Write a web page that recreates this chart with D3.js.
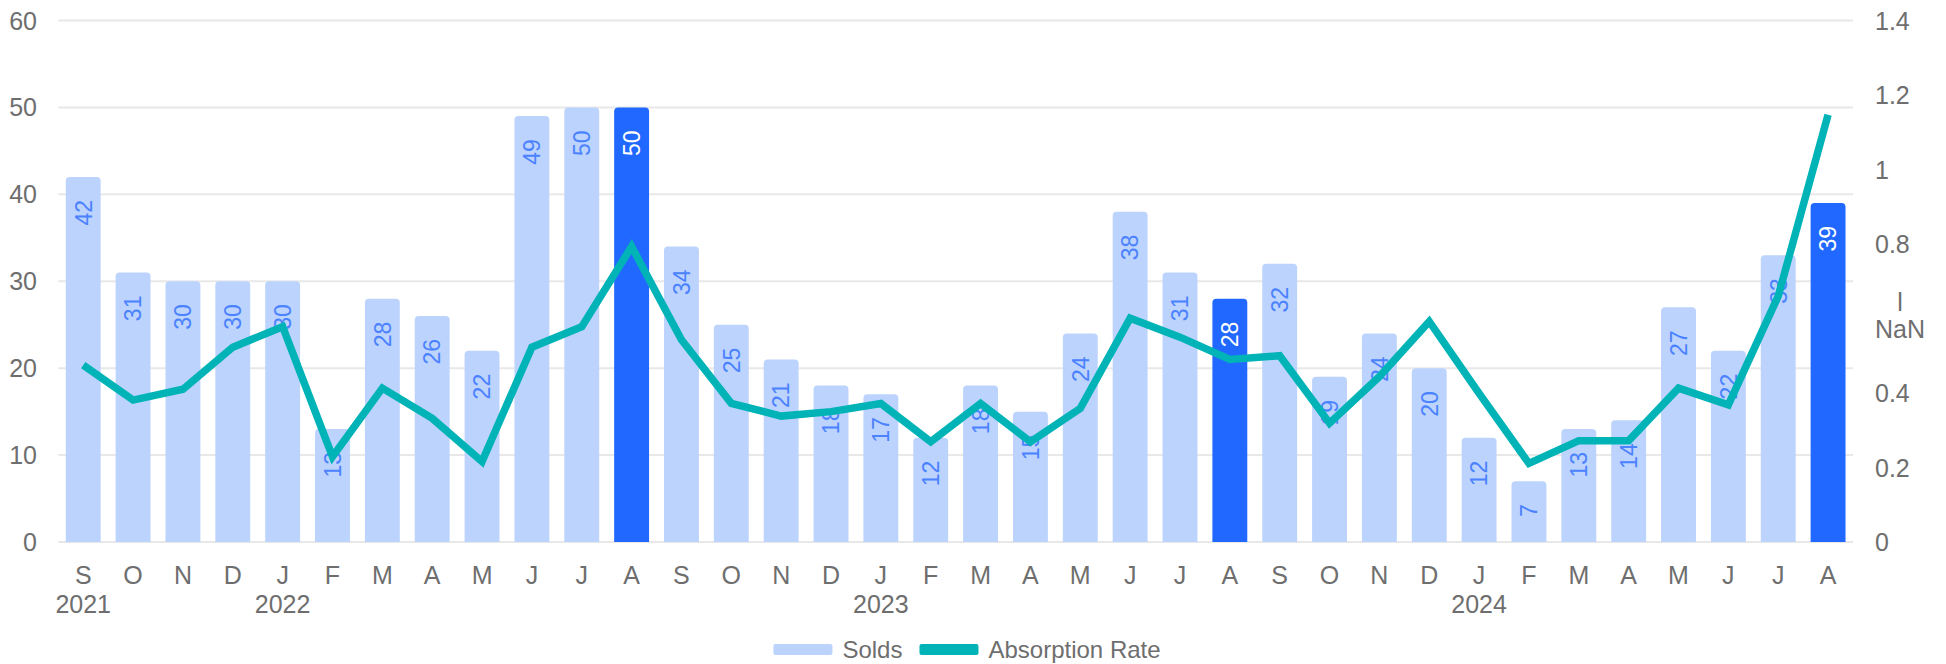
<!DOCTYPE html>
<html>
<head>
<meta charset="utf-8">
<script src="https://cdn.jsdelivr.net/npm/d3@7"></script>
<style>
  body { margin: 0; background: #fff; }
  svg { display: block; font-family: "Liberation Sans", Arial, sans-serif; }
</style>
</head>
<body>
<div id="chart"></div>
<script>
// Months from Sep 2021 to Aug 2024
const months = ["S","O","N","D","J","F","M","A","M","J","J","A",
                "S","O","N","D","J","F","M","A","M","J","J","A",
                "S","O","N","D","J","F","M","A","M","J","J","A"];
const yearStarts = [0, 4, 16, 28];
const yearLabels = ["2021", "2022", "2023", "2024"];

// Units sold per month
const solds = [42,31,30,30,30,13,28,26,22,49,50,50,
               34,25,21,18,17,12,18,15,24,38,31,28,
               32,19,24,20,12,7,13,14,27,22,33,39];

// Absorption rate per month (right axis)
const absorption = [0.475,0.381,0.41,0.523,0.578,0.229,0.413,0.332,0.216,0.523,0.578,0.793,
                    0.543,0.372,0.338,0.35,0.372,0.269,0.372,0.269,0.359,0.601,0.55,0.49,
                    0.5,0.319,0.444,0.592,0.399,0.211,0.272,0.272,0.413,0.368,0.66,1.147];

// Highlighted (August) bars
const highlighted = [11, 23, 35];

const leftTicks = [0, 10, 20, 30, 40, 50, 60];
const rightTicks = [0, 0.2, 0.4, 0.6, 0.8, 1, 1.2, 1.4];
const rightTickLabels = ["0", "0.2", "0.4", "l\nNaN", "0.8", "1", "1.2", "1.4"];

const width = 1946, height = 664;
const plot = { left: 58.3, right: 1853, top: 20.5, bottom: 542 };

const svg = d3.select("#chart").append("svg")
    .attr("width", width)
    .attr("height", height);

const x = d3.scaleBand()
    .domain(d3.range(months.length))
    .range([plot.left, plot.right])
    .paddingInner(0.3)
    .paddingOuter(0.15);

const y = d3.scaleLinear().domain([0, 60]).range([plot.bottom, plot.top]);
const yRight = d3.scaleLinear().domain([0, 1.4]).range([plot.bottom, plot.top]);

const axisColor = "#6e6e6e";
const fontSize = "25px";

// grid lines
svg.append("g").selectAll("line")
    .data(leftTicks)
    .enter().append("line")
    .attr("x1", plot.left)
    .attr("x2", plot.right)
    .attr("y1", d => y(d))
    .attr("y2", d => y(d))
    .attr("stroke", "#e8e8e8")
    .attr("stroke-width", 2);

// left axis labels
svg.append("g").selectAll("text")
    .data(leftTicks)
    .enter().append("text")
    .attr("x", 37)
    .attr("y", d => y(d))
    .attr("dy", "0.36em")
    .attr("text-anchor", "end")
    .attr("fill", axisColor)
    .style("font-size", fontSize)
    .text(d => d);

// right axis labels
const rightG = svg.append("g");
rightTicks.forEach((t, i) => {
    const lines = rightTickLabels[i].split("\n");
    if (lines.length === 1) {
        rightG.append("text")
            .attr("x", 1875)
            .attr("y", yRight(t))
            .attr("dy", "0.36em")
            .attr("fill", axisColor)
            .style("font-size", fontSize)
            .text(lines[0]);
    } else {
        // broken label rendered on two lines
        const last = rightG.append("text")
            .attr("x", 1875)
            .attr("y", yRight(t) + 10)
            .attr("dy", "0.36em")
            .attr("fill", axisColor)
            .style("font-size", fontSize)
            .text(lines[1]);
        const w = last.node().getComputedTextLength();
        rightG.append("text")
            .attr("x", 1875 + w / 2)
            .attr("y", yRight(t) - 17)
            .attr("dy", "0.36em")
            .attr("text-anchor", "middle")
            .attr("fill", axisColor)
            .style("font-size", fontSize)
            .text(lines[0]);
    }
});

// bars with rounded top corners
function barPath(x0, y0, w, h, r) {
    r = Math.min(r, h, w / 2);
    return `M${x0},${y0 + h}V${y0 + r}Q${x0},${y0} ${x0 + r},${y0}` +
           `H${x0 + w - r}Q${x0 + w},${y0} ${x0 + w},${y0 + r}V${y0 + h}Z`;
}

const barData = solds.map((v, i) => ({ i, v, hi: highlighted.includes(i) }));

svg.append("g").selectAll("path")
    .data(barData)
    .enter().append("path")
    .attr("d", d => barPath(x(d.i), y(d.v), x.bandwidth(), y(0) - y(d.v), 4))
    .attr("fill", d => d.hi ? "#2068ff" : "#bcd3fe");

// bar value labels, rotated
svg.append("g").selectAll("text")
    .data(barData)
    .enter().append("text")
    .attr("transform", d => `translate(${x(d.i) + x.bandwidth() / 2},${y(d.v) + 23}) rotate(-90)`)
    .attr("text-anchor", "end")
    .attr("dy", "0.36em")
    .attr("fill", d => d.hi ? "#ffffff" : "#4a82ff")
    .style("font-size", "23px")
    .text(d => d.v);

// absorption rate line
const line = d3.line()
    .x((d, i) => x(i) + x.bandwidth() / 2)
    .y(d => yRight(d));

svg.append("path")
    .datum(absorption)
    .attr("d", line)
    .attr("fill", "none")
    .attr("stroke", "#00b3b6")
    .attr("stroke-width", 7.5)
    .attr("stroke-linejoin", "miter");

// month labels
svg.append("g").selectAll("text")
    .data(months)
    .enter().append("text")
    .attr("x", (d, i) => x(i) + x.bandwidth() / 2)
    .attr("y", 584)
    .attr("text-anchor", "middle")
    .attr("fill", axisColor)
    .style("font-size", fontSize)
    .text(d => d);

// year labels
svg.append("g").selectAll("text")
    .data(yearLabels)
    .enter().append("text")
    .attr("x", (d, i) => x(yearStarts[i]) + x.bandwidth() / 2)
    .attr("y", 613)
    .attr("text-anchor", "middle")
    .attr("fill", axisColor)
    .style("font-size", fontSize)
    .text(d => d);

// legend
const legendItems = [
    { name: "Solds", color: "#bcd3fe" },
    { name: "Absorption Rate", color: "#00b3b6" }
];
const legend = svg.append("g");
let lx = 0;
legendItems.forEach(item => {
    legend.append("rect")
        .attr("x", lx)
        .attr("y", 644)
        .attr("width", 59)
        .attr("height", 11)
        .attr("rx", 2)
        .attr("fill", item.color);
    const t = legend.append("text")
        .attr("x", lx + 69)
        .attr("y", 658)
        .attr("fill", axisColor)
        .style("font-size", "24px")
        .text(item.name);
    lx += 69 + t.node().getComputedTextLength() + 17;
});
const legendWidth = lx - 17;
legend.attr("transform", `translate(${967 - legendWidth / 2},0)`);
</script>
</body>
</html>
